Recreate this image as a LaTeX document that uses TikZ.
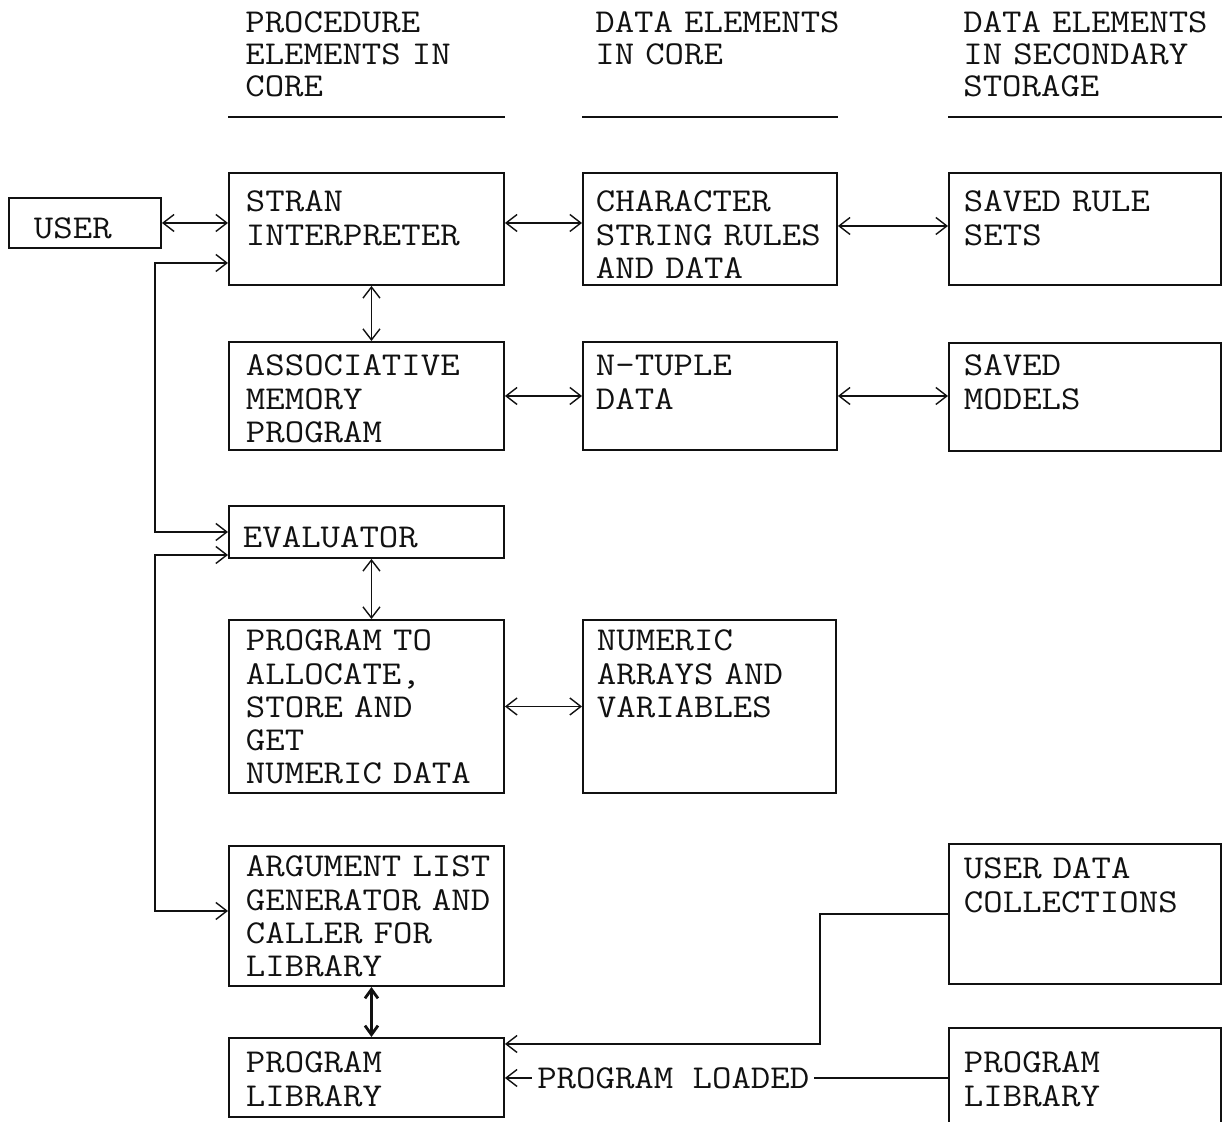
\documentclass[tikz,border=0pt]{standalone}
\usepackage{fontspec}
\usepackage{tikz}
\usetikzlibrary{arrows.meta,positioning,calc}
\definecolor{ink}{HTML}{111111}
\newfontfamily\typewriter[FakeStretch=1.13]{Latin Modern Mono}
\newcommand\typefont{\typewriter\fontsize{19pt}{18.8pt}\selectfont}
\newcommand\headfont{\typewriter\fontsize{19pt}{18.2pt}\selectfont}
\tikzset{
  blk/.style={draw=ink, line width=1.1pt, anchor=north west, align=left,
    inner ysep=0pt, font=\typefont, text=ink},
  procbox/.style={blk, inner xsep=0.34cm, text width=4.82cm},
  corebox/.style={blk, inner xsep=0.26cm, text width=4.56cm},
  storebox/.style={blk, inner xsep=0.3cm, text width=4.84cm},
  head/.style={anchor=north west, align=left, inner sep=0pt,
    text width=5cm, text height=0.64cm, font=\headfont, text=ink},
  headrule/.style={draw=ink, line width=1.5pt},
  dblarr/.style={{Straight Barb[length=2.2mm,width=3.4mm]}-{Straight Barb[length=2.2mm,width=3.4mm]},
    line width=0.8pt, draw=ink},
  arr/.style={-{Straight Barb[length=2.2mm,width=3.4mm]}, line width=0.8pt, draw=ink},
  boldarr/.style={{Straight Barb[length=1.8mm,width=2.6mm]}-{Straight Barb[length=1.8mm,width=2.6mm]},
    line width=1.6pt, draw=ink}
}

\begin{document}
\begin{tikzpicture}
    \useasboundingbox (0,0) rectangle (24.44,-22.42);
    % column heads
    \node[head] (hproc) at (4.90,0) {PROCEDURE\\ELEMENTS IN\\CORE};
    \node[head] (hcore) at (11.90,0) {DATA ELEMENTS\\IN CORE};
    \node[head] (hstore) at (19.26,0) {DATA ELEMENTS\\IN SECONDARY\\STORAGE};
    \coordinate (rule) at (0,-2.34);

    % boxes
    \node[blk, inner xsep=0.5cm, text width=2.04cm, text height=0.82cm, text depth=0.18cm] (user) at (0.16,-3.94) {USER};
    \node[procbox, text height=0.78cm, text depth=1.46cm] (stran) at (4.56,-3.44) {STRAN\\INTERPRETER};
    \node[corebox, text height=0.78cm, text depth=1.46cm] (chars) at (11.64,-3.44) {CHARACTER\\STRING~RULES\\AND DATA};
    \node[storebox, text height=0.78cm, text depth=1.46cm] (rules) at (18.96,-3.44) {SAVED RULE\\SETS};
    \node[procbox, text height=0.68cm, text depth=1.48cm] (assoc) at (4.56,-6.82) {ASSOCIATIVE\\MEMORY\\PROGRAM};
    \node[corebox, text height=0.68cm, text depth=1.48cm] (ntuple) at (11.64,-6.82) {N-TUPLE\\DATA};
    \node[storebox, text height=0.66cm, text depth=1.5cm] (models) at (18.96,-6.84) {SAVED\\MODELS};
    \node[procbox, inner xsep=0.28cm, text width=4.94cm, text height=0.84cm, text depth=0.2cm] (eval) at (4.56,-10.1) {EVALUATOR};
    \node[procbox, text height=0.62cm, text depth=2.84cm] (alloc) at (4.56,-12.38) {PROGRAM TO\\ALLOCATE,\\STORE AND\\GET\\NUMERIC DATA};
    \node[corebox, inner xsep=0.28cm, text width=4.5cm, text height=0.62cm, text depth=2.84cm] (numeric) at (11.64,-12.38) {NUMERIC\\ARRAYS AND\\VARIABLES};
    \node[procbox, text height=0.62cm, text depth=2.18cm] (arglist) at (4.56,-16.9) {ARGUMENT~LIST\\GENERATOR~AND\\CALLER FOR\\LIBRARY};
    \node[storebox, text height=0.7cm, text depth=2.1cm] (usrdata) at (18.96,-16.86) {USER DATA\\COLLECTIONS};
    \node[procbox, text height=0.7cm, text depth=0.88cm] (proglib) at (4.56,-20.74) {PROGRAM\\LIBRARY};
    \node[storebox, text height=0.9cm, text depth=1.1cm] (libstore) at (18.96,-20.54) {PROGRAM\\LIBRARY};

    % head rules
    \draw[headrule] (stran.north west |- rule) -- (stran.north east |- rule);
    \draw[headrule] (chars.north west |- rule) -- (chars.north east |- rule);
    \draw[headrule] (rules.north west |- rule) -- (rules.north east |- rule);

    % connectors
    \draw[dblarr] (user.east) -- (user.east -| stran.west);
    \draw[dblarr] ([yshift=0.12cm]stran.east) -- ([yshift=0.12cm]stran.east -| chars.west);
    \draw[dblarr] ([yshift=0.06cm]chars.east) -- ([yshift=0.06cm]chars.east -| rules.west);
    \draw[dblarr] ([yshift=-0.68cm]stran.west) -- ++(-1.46,0) |- (eval.west);
    \draw[dblarr] ([yshift=-0.46cm]eval.west) -- ++(-1.46,0) |- ([yshift=0.1cm]arglist.west);
    \draw[dblarr] ([xshift=0.1cm]stran.south) -- ([xshift=0.1cm]assoc.north);
    \draw[dblarr] (assoc.east) -- (assoc.east -| ntuple.west);
    \draw[dblarr] (ntuple.east) -- (ntuple.east -| models.west);
    \draw[dblarr] ([xshift=0.1cm]eval.south) -- ([xshift=0.1cm]alloc.north);
    \draw[dblarr] (alloc.east) -- (alloc.east -| numeric.west);
    \draw[boldarr] ([xshift=0.1cm]arglist.south) -- ([xshift=0.1cm]proglib.north);
    \draw[arr] (usrdata.west) -- ++(-2.56,0) |- ([yshift=0.67cm]proglib.east);
    \draw[arr] (libstore.west) -- node[pos=0.62, fill=white, inner xsep=0.1cm, inner ysep=0.05cm, font=\typefont, text=ink] (loaded) {PROGRAM LOADED} (libstore.west -| proglib.east);
  \end{tikzpicture}
\end{document}
